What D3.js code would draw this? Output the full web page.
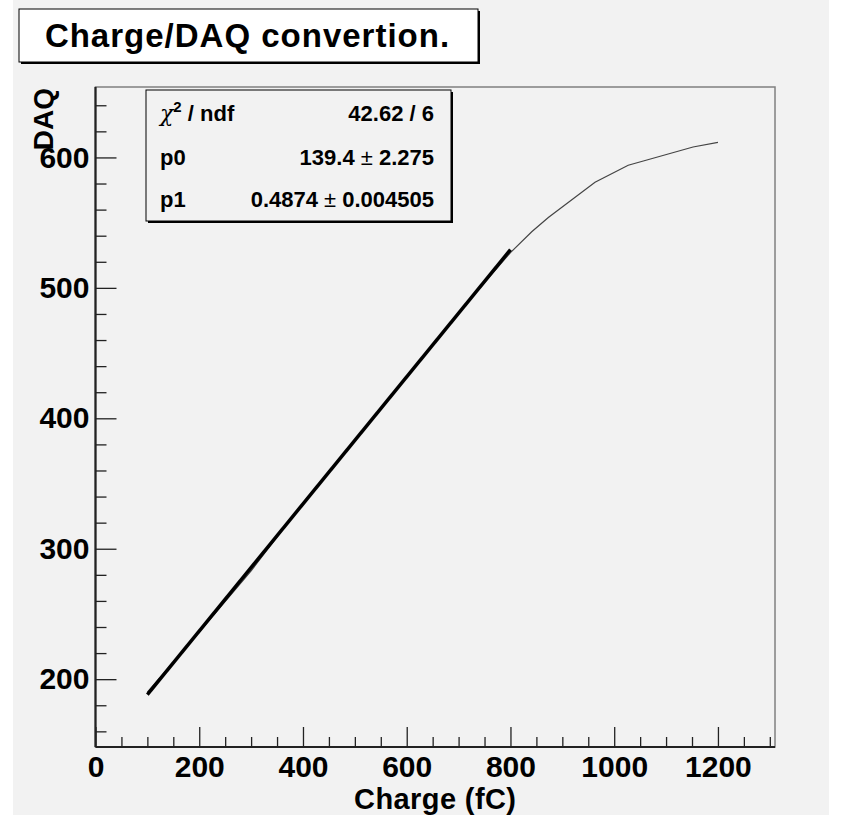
<!DOCTYPE html>
<html>
<head>
<meta charset="utf-8">
<script src="https://cdn.jsdelivr.net/npm/d3@7"></script>
<style>
  body { margin: 0; background: #fff; }
  svg { display: block; font-family: "Liberation Sans", Arial, Helvetica, sans-serif; }
</style>
</head>
<body>
<div class="chart-wrapper"></div>
<script>
// measured points of the graph (fC -> DAQ)
const chargeFC = [100, 200, 300, 400, 500, 600, 700, 800, 841, 873, 963, 1027, 1063, 1152, 1200];
const daqValues = [190, 236, 283, 335, 383.5, 432, 481, 527, 543, 554, 581, 594, 598, 608, 611.5];

// linear fit p0 + p1*x over 100..800
const fitParams = [139.4, 0.4874];
const fitRange = [100, 800];

const statLabels = ['χ', 'p0', 'p1'];
const statValues = [['42.62 / 6'], ['139.4 ', '±', ' 2.275'], ['0.4874 ', '±', ' 0.004505']];

const xMajorTicks = [0, 200, 400, 600, 800, 1000, 1200];
const yMajorTicks = [200, 300, 400, 500, 600];

const W = 842, H = 827;
const frame = { left: 95.5, right: 775, top: 87, bottom: 747 };
const bg = '#f2f2f2';

const svg = d3.select('.chart-wrapper')
  .append('svg')
  .attr('width', W)
  .attr('height', H);

svg.append('rect')
  .attr('x', 13).attr('y', 0)
  .attr('width', W - 26).attr('height', H - 12)
  .attr('fill', bg);

const x = d3.scaleLinear().domain([0, 1310]).range([frame.left, frame.right]);
const y = d3.scaleLinear().domain([148, 654]).range([frame.bottom, frame.top]);

// frame
svg.append('rect')
  .attr('x', frame.left).attr('y', frame.top)
  .attr('width', frame.right - frame.left)
  .attr('height', frame.bottom - frame.top)
  .attr('fill', 'none')
  .attr('stroke', '#808080')
  .attr('stroke-width', 1.5);

// minor ticks
const xMinor = d3.range(0, 1310, 50).filter(v => v % 200 !== 0);
const yMinor = d3.range(160, 654, 20).filter(v => v % 100 !== 0);

svg.append('g')
  .attr('transform', 'translate(0,' + frame.bottom + ')')
  .call(d3.axisBottom(x).tickValues(xMinor).tickSize(-10).tickFormat(''))
  .call(g => g.select('.domain').remove())
  .selectAll('line').attr('stroke', '#222').attr('stroke-width', 1.3);

svg.append('g')
  .attr('transform', 'translate(' + frame.left + ',0)')
  .call(d3.axisLeft(y).tickValues(yMinor).tickSize(-11).tickFormat(''))
  .call(g => g.select('.domain').remove())
  .selectAll('line').attr('stroke', '#222').attr('stroke-width', 1.3);

// major axes
const xAxis = svg.append('g')
  .attr('transform', 'translate(0,' + frame.bottom + ')')
  .call(d3.axisBottom(x).tickValues(xMajorTicks).tickSize(-20).tickSizeOuter(0).tickPadding(9).tickFormat(d3.format('d')));

const yAxis = svg.append('g')
  .attr('transform', 'translate(' + frame.left + ',0)')
  .call(d3.axisLeft(y).tickValues(yMajorTicks).tickSize(-21).tickSizeOuter(0).tickPadding(6).tickFormat(d3.format('d')));

[xAxis, yAxis].forEach(ax => {
  ax.select('.domain').attr('stroke', '#222').attr('stroke-width', 2.2);
  ax.selectAll('.tick line').attr('stroke', '#222').attr('stroke-width', 1.3);
  ax.selectAll('.tick text')
    .attr('fill', '#000')
    .style('font-size', '30px')
    .style('font-weight', '700');
});
xAxis.select('.domain').attr('d', 'M' + frame.left + ',0H' + frame.right);
yAxis.select('.domain').attr('d', 'M0,' + frame.bottom + 'V' + frame.top);

// axis titles
svg.append('text')
  .attr('x', (frame.left + frame.right) / 2)
  .attr('y', 809)
  .attr('text-anchor', 'middle')
  .style('font-size', '29px')
  .style('font-weight', '700')
  .style('letter-spacing', '0.4px')
  .text('Charge (fC)');

svg.append('text')
  .attr('transform', 'translate(53,' + (frame.top + 1) + ') rotate(-90)')
  .attr('text-anchor', 'end')
  .style('font-size', '28px')
  .style('font-weight', '700')
  .text('DAQ');

// graph line
const line = d3.line().x(d => x(d[0])).y(d => y(d[1]));
svg.append('path')
  .datum(chargeFC.map((c, i) => [c, daqValues[i]]))
  .attr('d', line)
  .attr('fill', 'none')
  .attr('stroke', '#444')
  .attr('stroke-width', 1.2);

// fit line
svg.append('path')
  .datum(fitRange.map(c => [c, fitParams[0] + fitParams[1] * c]))
  .attr('d', line)
  .attr('fill', 'none')
  .attr('stroke', '#000')
  .attr('stroke-width', 3.5);

// stats box
const box = { x: 146, y: 90, w: 305, h: 131 };
svg.append('rect')
  .attr('x', box.x + 2).attr('y', box.y + 2)
  .attr('width', box.w).attr('height', box.h)
  .attr('fill', '#000');
svg.append('rect')
  .attr('x', box.x).attr('y', box.y)
  .attr('width', box.w).attr('height', box.h)
  .attr('fill', bg)
  .attr('stroke', '#000')
  .attr('stroke-width', 1);

const rowY = [121, 165, 207];
statLabels.forEach((lab, i) => {
  const t = svg.append('text')
    .attr('x', 160).attr('y', rowY[i])
    .style('font-size', '22px')
    .style('font-weight', '700');
  if (i === 0) {
    t.append('tspan').style('font-weight', '400').style('font-family', 'DejaVu Serif, serif').style('font-style', 'italic').text('χ');
    t.append('tspan').attr('dy', -9).style('font-size', '15px').text('2');
    t.append('tspan').attr('dy', 9).text(' / ndf');
  } else {
    t.text(lab);
  }
  const v = svg.append('text')
    .attr('x', 434).attr('y', rowY[i])
    .attr('text-anchor', 'end')
    .style('font-size', '22px')
    .style('font-weight', '700');
  statValues[i].forEach(s => {
    v.append('tspan')
      .style('font-weight', s === '±' ? '400' : '700')
      .text(s);
  });
});

// title box
const tb = { x: 19, y: 9, w: 459, h: 53 };
svg.append('rect')
  .attr('x', tb.x + 2).attr('y', tb.y + 2)
  .attr('width', tb.w).attr('height', tb.h)
  .attr('fill', '#000');
svg.append('rect')
  .attr('x', tb.x).attr('y', tb.y)
  .attr('width', tb.w).attr('height', tb.h)
  .attr('fill', '#fff')
  .attr('stroke', '#000')
  .attr('stroke-width', 1);
svg.append('text')
  .attr('x', tb.x + tb.w / 2 - 1)
  .attr('y', 47)
  .attr('text-anchor', 'middle')
  .style('font-size', '33px')
  .style('font-weight', '700')
  .style('letter-spacing', '1px')
  .text('Charge/DAQ convertion.');
</script>
</body>
</html>
